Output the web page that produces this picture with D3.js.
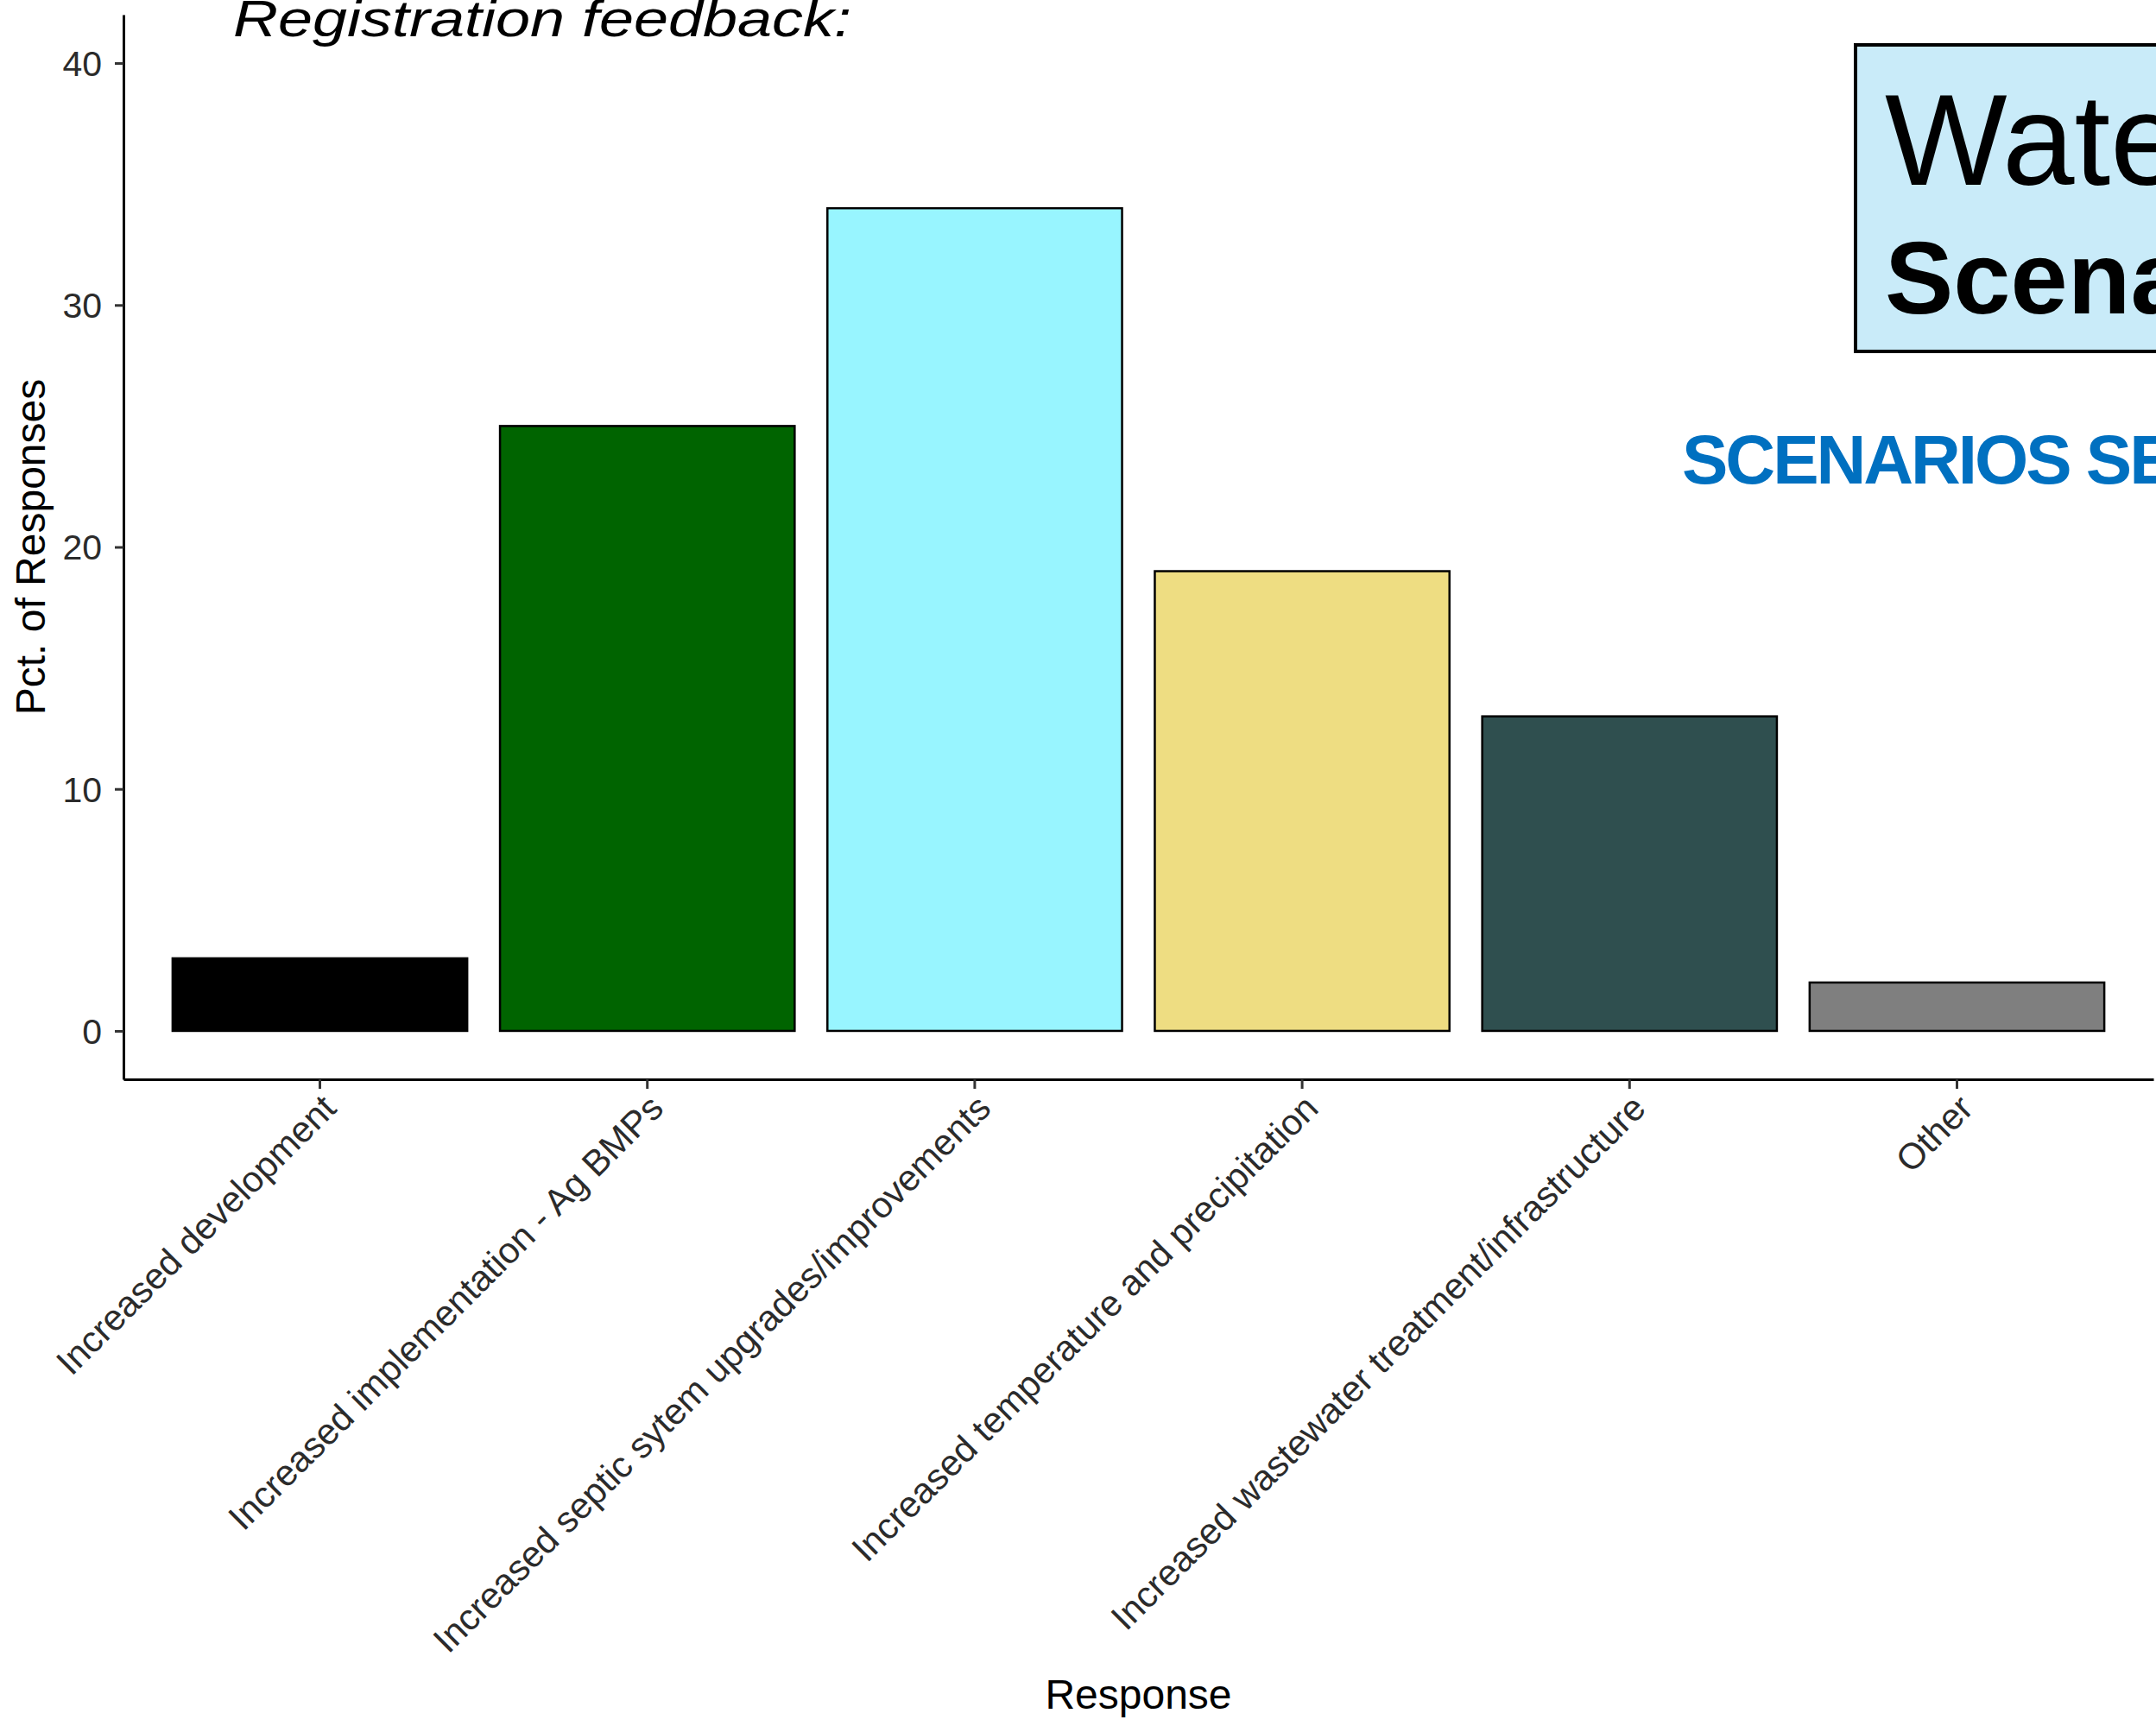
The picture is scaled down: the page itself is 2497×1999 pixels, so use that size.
<!DOCTYPE html>
<html>
<head>
<meta charset="utf-8">
<script src="https://cdn.jsdelivr.net/npm/d3@7"></script>
<style>
  html, body { margin: 0; padding: 0; background: #ffffff; overflow: hidden; }
  svg { display: block; }
</style>
</head>
<body>
<svg id="chart" width="2497" height="1999"></svg>
<script>
// Response categories, share of responses (%) and fill colours
const categories = [
  "Increased development",
  "Increased implementation - Ag BMPs",
  "Increased septic sytem upgrades/improvements",
  "Increased temperature and precipitation",
  "Increased wastewater treatment/infrastructure",
  "Other"
];
const values = [3, 25, 34, 19, 13, 2];
const barColors = ["#000000", "#006400", "#98F5FF", "#EEDD82", "#2F4F4F", "#7F7F7F"];
const yTicks = [0, 10, 20, 30, 40];
const yDomain = [-2, 42];

const titleText = "Registration feedback:";
const boxLine1 = "Water";
const boxLine2 = "Scenarios";
const bannerText = "SCENARIOS SE";
const xTitle = "Response";
const yTitle = "Pct. of Responses";

const W = 2497, H = 1999;
const panel = { left: 143, right: 2494, top: 17, bottom: 1250 };
const FONT = "'Liberation Sans', Arial, Helvetica, sans-serif";

const svg = d3.select("#chart");

svg.append("rect").attr("width", W).attr("height", H).attr("fill", "#ffffff");

const x = d3.scaleBand()
  .domain(categories)
  .range([panel.left, panel.right])
  .paddingInner(0.1)
  .paddingOuter(0.15);

const y = d3.scaleLinear()
  .domain(yDomain)
  .range([panel.bottom, panel.top]);

// Bars
const data = categories.map((c, i) => ({ c, v: values[i], col: barColors[i] }));
svg.append("g").selectAll("rect")
  .data(data)
  .join("rect")
  .attr("x", d => x(d.c))
  .attr("width", x.bandwidth())
  .attr("y", d => y(d.v))
  .attr("height", d => y(0) - y(d.v))
  .attr("fill", d => d.col)
  .attr("stroke", "#000000")
  .attr("stroke-width", 2.5);

// Y axis
const yAxis = svg.append("g")
  .attr("transform", `translate(${panel.left},0)`)
  .call(d3.axisLeft(y).tickValues(yTicks).tickSize(10).tickSizeOuter(0).tickPadding(15));
yAxis.select(".domain").attr("stroke", "#000").attr("stroke-width", 3);
yAxis.selectAll(".tick line").attr("stroke", "#333").attr("stroke-width", 3);
yAxis.selectAll(".tick text")
  .attr("font-family", FONT)
  .attr("font-size", 41)
  .attr("fill", "#2b2b2b")
  .attr("dy", "0.35em");

// X axis
const xAxis = svg.append("g")
  .attr("transform", `translate(0,${panel.bottom})`)
  .call(d3.axisBottom(x).tickSize(11).tickSizeOuter(0));
xAxis.select(".domain").attr("stroke", "#000").attr("stroke-width", 3);
xAxis.selectAll(".tick line").attr("stroke", "#333").attr("stroke-width", 3);
xAxis.selectAll(".tick text")
  .attr("font-family", FONT)
  .attr("font-size", 42)
  .attr("fill", "#2b2b2b")
  .attr("text-anchor", "end")
  .attr("x", null).attr("y", null).attr("dy", null)
  .attr("transform", "translate(21,36) rotate(-45)");

// Axis titles
svg.append("text")
  .attr("transform", `translate(52,${(panel.top + panel.bottom) / 2}) rotate(-90)`)
  .attr("text-anchor", "middle")
  .attr("font-family", FONT)
  .attr("font-size", 48)
  .attr("fill", "#000")
  .text(yTitle);

svg.append("text")
  .attr("x", (panel.left + panel.right) / 2)
  .attr("y", 1979)
  .attr("text-anchor", "middle")
  .attr("font-family", FONT)
  .attr("font-size", 48)
  .attr("fill", "#000")
  .text(xTitle);

// Heading (condensed italic)
svg.append("text")
  .attr("x", 270)
  .attr("y", 42)
  .attr("font-family", FONT)
  .attr("font-style", "italic")
  .attr("font-size", 60)
  .attr("textLength", 716)
  .attr("lengthAdjust", "spacingAndGlyphs")
  .attr("fill", "#000")
  .text(titleText);

// Session box
svg.append("rect")
  .attr("x", 2149).attr("y", 52)
  .attr("width", 420).attr("height", 355)
  .attr("fill", "#C9EBF9")
  .attr("stroke", "#000")
  .attr("stroke-width", 4);

svg.append("text")
  .attr("x", 2183).attr("y", 214)
  .attr("font-family", FONT)
  .attr("font-size", 150)
  .attr("fill", "#000")
  .text(boxLine1);

svg.append("text")
  .attr("x", 2183).attr("y", 363)
  .attr("font-family", FONT)
  .attr("font-weight", "bold")
  .attr("font-size", 119)
  .attr("fill", "#000")
  .text(boxLine2);

svg.append("text")
  .attr("x", 1948).attr("y", 560)
  .attr("font-family", FONT)
  .attr("font-weight", "bold")
  .attr("font-size", 80)
  .attr("letter-spacing", -3)
  .attr("fill", "#0070C0")
  .text(bannerText);
</script>
</body>
</html>
